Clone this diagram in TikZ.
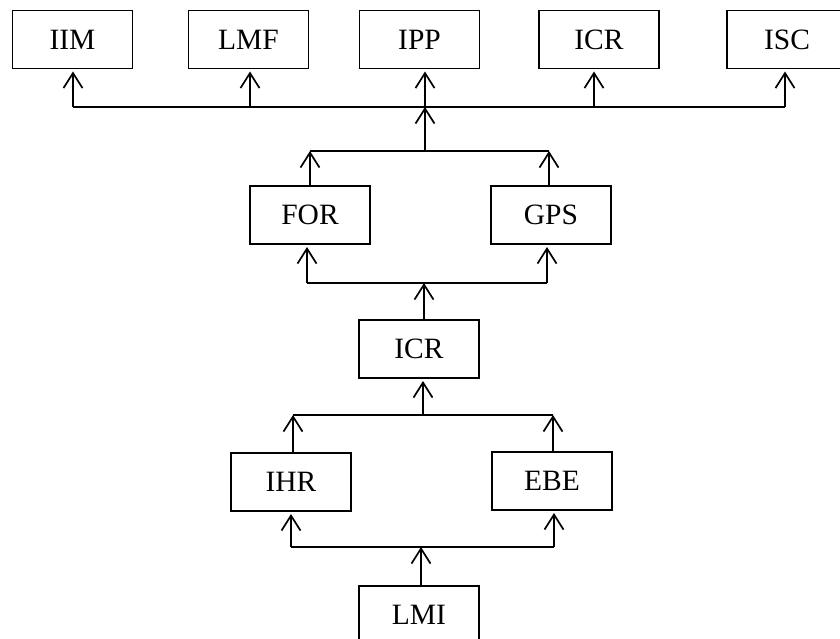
\documentclass[tikz,border=0pt]{standalone}
\usepackage{fontspec}
\setmainfont{Liberation Serif}
\usetikzlibrary{arrows.meta}
\begin{document}
\begin{tikzpicture}[x=1pt,y=-1pt,
  box/.style={draw,line width=1.7pt,minimum width=120pt,minimum height=58pt,inner sep=0pt,outer sep=0pt,font=\fontsize{29.5}{34}\selectfont},
  ln/.style={line width=1.7pt},
  arr/.style={line width=1.7pt,-{Straight Barb[length=15pt,width=19pt,line width=1.7pt]}}]
\useasboundingbox (0,0) rectangle (840,639);
\clip (0,0) rectangle (840,639);
% nodes
\node[box] (IIM) at (72.5,39.5) {IIM};
\node[box] (LMF) at (248.5,39.5) {LMF};
\node[box] (IPP) at (419.5,39.5) {IPP};
\node[box] (ICRa) at (599,39.5) {ICR};
\node[box] (ISC) at (787,39.5) {ISC};
\node[box] (FOR) at (310,215) {FOR};
\node[box] (GPS) at (551,215) {GPS};
\node[box] (ICRb) at (419,349) {ICR};
\node[box] (IHR) at (291,482) {IHR};
\node[box] (EBE) at (552,481) {EBE};
\node[box] (LMI) at (419,615) {LMI};
% top bus
\coordinate (t1) at (73,107);
\coordinate (t2) at (250,107);
\coordinate (t3) at (425,107);
\coordinate (t4) at (594,107);
\coordinate (t5) at (785,107);
\draw[ln] (t1) -- (t5);
\foreach \c/\n in {t1/IIM,t2/LMF,t3/IPP,t4/ICRa,t5/ISC}
  \draw[arr,shorten >=3pt] (\c) -- (\c |- \n.south);
% second bus
\coordinate (s1) at (310,151);
\coordinate (s2) at (425,151);
\coordinate (s3) at (549,151);
\draw[ln] (s1) -- (s3);
\draw[arr] (s2) -- (t3);
\draw[arr] (s1 |- FOR.north) -- (s1);
\draw[arr] (s3 |- GPS.north) -- (s3);
% third bus
\coordinate (u1) at (307,283);
\coordinate (u2) at (424,283);
\coordinate (u3) at (547,283);
\draw[ln] (u1) -- (u3);
\draw[arr,shorten >=3pt] (u1) -- (u1 |- FOR.south);
\draw[arr,shorten >=3pt] (u3) -- (u3 |- GPS.south);
\draw[arr] (u2 |- ICRb.north) -- (u2);
% fourth bus
\coordinate (v1) at (293,415);
\coordinate (v2) at (423,415);
\coordinate (v3) at (553,415);
\draw[ln] (v1) -- (v3);
\draw[arr,shorten >=3pt] (v2) -- (v2 |- ICRb.south);
\draw[arr] (v1 |- IHR.north) -- (v1);
\draw[arr] (v3 |- EBE.north) -- (v3);
% fifth bus
\coordinate (w1) at (291,547);
\coordinate (w2) at (421,547);
\coordinate (w3) at (554,547);
\draw[ln] (w1) -- (w3);
\draw[arr,shorten >=3pt] (w1) -- (w1 |- IHR.south);
\draw[arr,shorten >=3pt] (w3) -- (w3 |- EBE.south);
\draw[arr] (w2 |- LMI.north) -- (w2);
\end{tikzpicture}
\end{document}
